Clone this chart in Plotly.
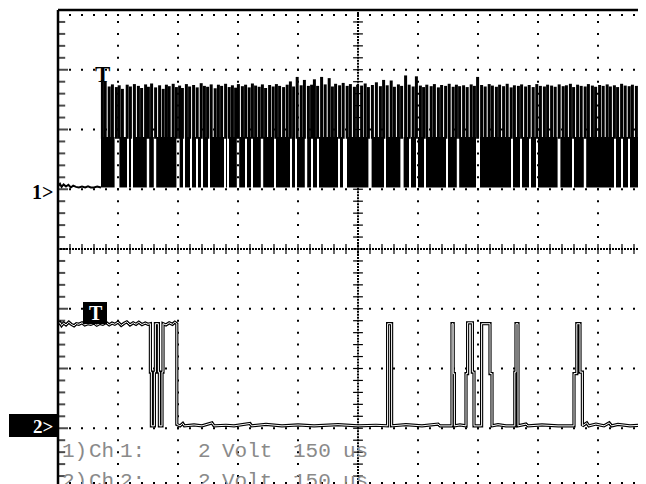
import plotly.graph_objects as go

# ---------------- scope settings ----------------
US_PER_DIV = 150.0      # time base
V_PER_DIV = 2.0         # both channels
X_MAX_US = 1470.0       # visible part of the screen (9.8 div)
Y_TOP_DIV = 8.0
Y_BOT_DIV = 0.067

ch1_ground_div = 5.03   # "1>" marker
ch2_ground_div = 1.04   # "2>" marker

# ---------------- channel 1 data ----------------
# idle line before the burst (time us, volts)
ch1_idle = [(0, 0.04), (5, 0.12), (9, 0.02), (14, 0.10), (20, 0.03), (26, 0.09),
            (32, 0.0), (38, 0.06), (45, 0.02), (52, 0.0), (60, 0.03), (68, 0.0),
            (75, 0.04), (82, 0.0), (90, 0.0), (98, 0.03), (107.5, 0.0)]
ch1_burst_start_us = 107.5
ch1_burst_end_us = 1475.0
ch1_band_v = 1.69       # level of the dense lower part of the burst

# tall spikes of the burst (time us) and their peak (volts)
ch1_spike_t = [111, 118, 128, 136, 146, 153, 161, 173, 181, 191,
               201, 209, 219, 226, 234, 244, 254, 263, 271, 278,
               288, 296, 304, 311, 321, 329, 339, 348, 358, 366,
               374, 383, 393, 401, 409, 419, 428, 436, 444, 451,
               461, 469, 478, 486, 494, 503, 511, 519, 529, 538,
               546, 554, 564, 573, 581, 589, 598, 608, 616, 626,
               634, 641, 649, 659, 668, 678, 686, 694, 704, 713,
               723, 731, 741, 749, 759, 768, 776, 786, 796, 806,
               814, 823, 833, 841, 851, 859, 869, 878, 888, 896,
               906, 914, 922, 933, 941, 951, 959, 969, 978, 988,
               996, 1004, 1014, 1023, 1033, 1041, 1049, 1059, 1068, 1078,
               1086, 1096, 1104, 1114, 1123, 1133, 1141, 1151, 1159, 1169,
               1178, 1188, 1197, 1206, 1216, 1224, 1234, 1243, 1253, 1263,
               1271, 1281, 1289, 1299, 1308, 1318, 1326, 1336, 1344, 1354,
               1363, 1373, 1381, 1391, 1399, 1409, 1418, 1428, 1436, 1446,
               1454, 1464]
ch1_spike_v = [3.60, 3.55, 3.38, 3.45, 3.36, 3.42, 3.30, 3.44, 3.38, 3.46,
               3.40, 3.33, 3.45, 3.37, 3.48, 3.35, 3.42, 3.30, 3.44, 3.39,
               3.47, 3.36, 3.41, 3.33, 3.46, 3.38, 3.43, 3.35, 3.49, 3.40,
               3.37, 3.45, 3.32, 3.44, 3.40, 3.47, 3.36, 3.42, 3.34, 3.46,
               3.39, 3.44, 3.35, 3.48, 3.41, 3.37, 3.45, 3.33, 3.43, 3.38,
               3.46, 3.40, 3.36, 3.44, 3.55, 3.38, 3.70, 3.42, 3.60, 3.40,
               3.44, 3.62, 3.40, 3.70, 3.45, 3.66, 3.38, 3.47, 3.42, 3.50,
               3.40, 3.46, 3.37, 3.44, 3.41, 3.48, 3.36, 3.43, 3.52, 3.39,
               3.60, 3.42, 3.58, 3.37, 3.45, 3.40, 3.75, 3.44, 3.38, 3.72,
               3.41, 3.36, 3.44, 3.39, 3.46, 3.35, 3.43, 3.40, 3.47, 3.37,
               3.44, 3.39, 3.42, 3.36, 3.45, 3.40, 3.70, 3.43, 3.38, 3.46,
               3.41, 3.37, 3.44, 3.39, 3.47, 3.35, 3.42, 3.40, 3.45, 3.38,
               3.43, 3.36, 3.46, 3.40, 3.38, 3.44, 3.41, 3.37, 3.45, 3.39,
               3.42, 3.47, 3.36, 3.44, 3.40, 3.38, 3.46, 3.41, 3.37, 3.43,
               3.40, 3.45, 3.38, 3.42, 3.36, 3.47, 3.41, 3.39, 3.44, 3.40,
               3.43, 3.38]
# short drops of the lower band (centre us, duration us)
ch1_gap_t = [147.5, 175, 185, 225, 242.5, 300, 315, 332.5, 347.5, 360,
             377.5, 417.5, 425, 450, 470, 485, 510, 542.5, 582.5, 595,
             620, 635, 650, 702.5, 717.5, 780, 817.5, 860, 880, 897.5,
             917.5, 972.5, 1000, 1050, 1135, 1157.5, 1180, 1197.5, 1252.5, 1287.5,
             1317.5, 1392.5, 1410, 1427.5, 1455]
ch1_gap_d = [12, 5, 5, 6, 6, 8, 5, 5, 5, 5,
             5, 5, 5, 6, 5, 5, 6, 5, 5, 5,
             6, 5, 5, 5, 10, 8, 5, 8, 5, 5,
             5, 5, 6, 10, 5, 5, 5, 5, 7, 5,
             6, 5, 5, 5, 5]

# ---------------- channel 2 data (time us, volts) ----------------
ch2_points = [
    (0, 3.40), (5, 3.46), (9, 3.36), (14, 3.44), (20, 3.38), (27, 3.47), (33, 3.40),
    (40, 3.35), (46, 3.42), (52, 3.40), (60, 3.45), (67, 3.38), (75, 3.42), (82, 3.40),
    (90, 3.44), (97, 3.37), (105, 3.43), (112, 3.40), (120, 3.46), (128, 3.38),
    (135, 3.44), (142, 3.40), (150, 3.47), (158, 3.36), (165, 3.43), (172, 3.48),
    (180, 3.38), (188, 3.45), (195, 3.40), (202, 3.47), (210, 3.39), (218, 3.44),
    (225, 3.40), (231, 3.42),
    (231, 1.8), (233.5, 1.8), (233.5, 0.0),
    (241, 0.0), (241, 1.8), (243.5, 1.8), (243.5, 3.42),
    (251, 3.42), (251, 1.8), (253.5, 1.8), (253.5, 0.0),
    (260, 0.0), (260, 1.8), (262.5, 1.8), (262.5, 3.42),
    (270, 3.38), (278, 3.45), (286, 3.40), (292, 3.47), (297, 3.42), (297, 0.05),
    (305, 0.0), (312, 0.08), (316, 0.0), (340, 0.03), (360, 0.0), (385, 0.10),
    (390, 0.0), (420, 0.02), (440, 0.0), (480, 0.08), (484, 0.0), (520, 0.05),
    (560, 0.0), (600, 0.03), (640, 0.0), (700, 0.04), (750, 0.0), (795, 0.02),
    (824, 0.0), (824, 3.42), (834, 3.42), (834, 0.0),
    (870, 0.04), (910, 0.0), (950, 0.06), (955, 0.0), (985, 0.0),
    (985, 3.42), (988, 3.42), (988, 1.75), (991, 1.75), (991, 0.0),
    (1005, 0.03), (1020, 0.0), (1020, 1.75), (1024, 1.75), (1024, 3.45),
    (1036, 3.45), (1036, 1.8), (1040, 1.8), (1040, 0.0),
    (1050, 0.0), (1059, 0.0), (1059, 3.42), (1080, 3.42), (1080, 1.75),
    (1085, 1.75), (1085, 0.0),
    (1100, 0.04), (1120, 0.0), (1142, 0.0), (1142, 1.8), (1145, 1.8),
    (1145, 3.42), (1150, 3.42), (1150, 0.0),
    (1170, 0.06), (1175, 0.0), (1210, 0.03), (1250, 0.0), (1290, 0.0),
    (1290, 1.75), (1297, 1.75), (1297, 3.42), (1305, 3.42), (1305, 1.8),
    (1311, 1.8), (1311, 0.0),
    (1322, 0.10), (1327, 0.0), (1345, 0.06), (1365, 0.0), (1378, 0.10),
    (1384, 0.0), (1400, 0.05), (1430, 0.0), (1470, 0.03)]

# ---------------- read-out texts ----------------
readout_rows = [["1)", "Ch", "1:", "2", "Volt", "150", "us"],
                ["2)", "Ch", "2:", "2", "Volt", "150", "us"]]

# =====================================================================
# the page body has an 8 px margin: size the figure so that it exactly
# fills the 646x484 window and the screen area starts at (58, 10)
OFF = 8
WIN_W, WIN_H = 646, 484
SCR_L, SCR_T = 58, 10
W, H = WIN_W - OFF, WIN_H - OFF
ML, MT = SCR_L - OFF, SCR_T - OFF
PW, PH = WIN_W - SCR_L, WIN_H - SCR_T


def xp(px):          # window pixel -> paper
    return (px - SCR_L) / PW


def yp(py):
    return (WIN_H - py) / PH


def d1(v):
    return ch1_ground_div + v / V_PER_DIV


def d2(v):
    return ch2_ground_div + v / V_PER_DIV


fig = go.Figure()

# ---- channel 1: lower dense band (bars between the drops) ----
seg = []
start = ch1_burst_start_us
for g, d in zip(ch1_gap_t, ch1_gap_d):
    seg.append((start, g - d / 2))
    start = g + d / 2
seg.append((start, ch1_burst_end_us))
fig.add_trace(go.Bar(
    x=[(a + b) / 2 for a, b in seg], width=[b - a for a, b in seg],
    base=[ch1_ground_div] * len(seg), y=[ch1_band_v / V_PER_DIV] * len(seg),
    marker=dict(color="black", line=dict(width=0)), hoverinfo="skip"))

# ---- channel 1: spikes above the band ----
fig.add_trace(go.Bar(
    x=ch1_spike_t, width=[7.5] * len(ch1_spike_t),
    base=[d1(ch1_band_v) - 0.03] * len(ch1_spike_t),
    y=[(v - ch1_band_v) / V_PER_DIV + 0.03 for v in ch1_spike_v],
    marker=dict(color="black", line=dict(width=0)), hoverinfo="skip"))

# ---- graticule ----
dot_x, dot_y = [], []
for j in range(1, 8):                      # horizontal division lines
    if j == 4:
        continue
    for k in range(1, 50):
        dot_x.append(k * 30)
        dot_y.append(j)
for m in range(1, 10):                     # vertical division lines
    if m == 5:
        continue
    for k in range(0, 41):
        dot_x.append(m * US_PER_DIV)
        dot_y.append(k * 0.2)
for k in range(1, 50):                     # edge tick rows
    dot_x += [k * 30, k * 30]
    dot_y += [Y_TOP_DIV - 5 / 59.75, 5 / 59.75]
# centre cross: fine dots
for k in range(0, 161):
    dot_x.append(750)
    dot_y.append(k * 0.05)
for k in range(0, 197):
    dot_x.append(k * 7.5)
    dot_y.append(4)
fig.add_trace(go.Scatter(x=dot_x, y=dot_y, mode="markers",
                         marker=dict(symbol="square", size=2, color="black",
                                     line=dict(width=0)), hoverinfo="skip"))
# centre cross ticks
fig.add_trace(go.Scatter(x=[750] * 41, y=[k * 0.2 for k in range(41)], mode="markers",
                         marker=dict(symbol="line-ew", size=7,
                                     line=dict(width=1.2, color="black")), hoverinfo="skip"))
fig.add_trace(go.Scatter(x=[k * 30 for k in range(1, 50)], y=[4] * 49, mode="markers",
                         marker=dict(symbol="line-ns", size=7,
                                     line=dict(width=1.2, color="black")), hoverinfo="skip"))
# left edge ticks
fig.add_trace(go.Scatter(x=[4] * 40, y=[k * 0.2 for k in range(1, 41)], mode="markers",
                         marker=dict(symbol="line-ew", size=[12 if k % 5 == 0 else 8 for k in range(1, 41)],
                                     line=dict(width=2, color="black")), hoverinfo="skip"))

# ---- channel 1 idle line ----
fig.add_trace(go.Scatter(x=[p[0] for p in ch1_idle], y=[d1(p[1]) for p in ch1_idle],
                         mode="lines", line=dict(color="black", width=2), hoverinfo="skip"))

# ---- channel 2 (hollow trace) ----
c2x = [p[0] for p in ch2_points]
c2y = [d2(p[1]) for p in ch2_points]
fig.add_trace(go.Scatter(x=c2x, y=c2y, mode="lines",
                         line=dict(color="black", width=3.2), hoverinfo="skip"))
fig.add_trace(go.Scatter(x=c2x, y=c2y, mode="lines",
                         line=dict(color="white", width=1.0), hoverinfo="skip"))

# ---- frame & labels ----
shapes = [
    dict(type="line", xref="paper", yref="paper", x0=0, x1=0, y0=0, y1=1,
         line=dict(color="black", width=2.5)),
    dict(type="line", xref="paper", yref="paper", x0=0, x1=1, y0=1, y1=1,
         line=dict(color="black", width=2.5)),
    dict(type="rect", xref="paper", yref="paper", x0=xp(9), x1=xp(57), y0=yp(437), y1=yp(414),
         fillcolor="black", line=dict(width=0)),
    dict(type="rect", xref="paper", yref="paper", x0=xp(83), x1=xp(107), y0=yp(324), y1=yp(302),
         fillcolor="black", line=dict(width=0)),
]

ann = [
    dict(text="<b>1&gt;</b>", x=xp(30), y=yp(192), xanchor="left", yanchor="middle",
         font=dict(family="Liberation Serif", size=20, color="black")),
    dict(text="<b>2&gt;</b>", x=xp(31), y=yp(426), xanchor="left", yanchor="middle",
         font=dict(family="Liberation Serif", size=19, color="white")),
    dict(text="<b>T</b>", x=xp(102), y=yp(74), xanchor="center", yanchor="middle",
         font=dict(family="Liberation Serif", size=23, color="black")),
    dict(text="<b>T</b>", x=xp(96), y=yp(313), xanchor="center", yanchor="middle",
         font=dict(family="Liberation Serif", size=20, color="white")),
]
frag_x = [60, 87, 118, 196, 220, 291, 341]
for row, py in zip(readout_rows, [451, 481]):
    for txt, px in zip(row, frag_x):
        ann.append(dict(text=txt, x=xp(px), y=yp(py), xanchor="left", yanchor="middle",
                        font=dict(family="Liberation Mono", size=21, color="#8a8a8a")))
for a in ann:
    a.update(xref="paper", yref="paper", showarrow=False)

fig.update_layout(
    width=W, height=H, margin=dict(l=ML, r=0, t=MT, b=0),
    paper_bgcolor="white", plot_bgcolor="white", showlegend=False,
    barmode="overlay",
    xaxis=dict(range=[0, X_MAX_US], showgrid=False, zeroline=False,
               showticklabels=False, ticks="", fixedrange=True),
    yaxis=dict(range=[Y_BOT_DIV, Y_TOP_DIV], showgrid=False, zeroline=False,
               showticklabels=False, ticks="", fixedrange=True),
    shapes=shapes, annotations=ann,
)

fig.write_html("out.html")
